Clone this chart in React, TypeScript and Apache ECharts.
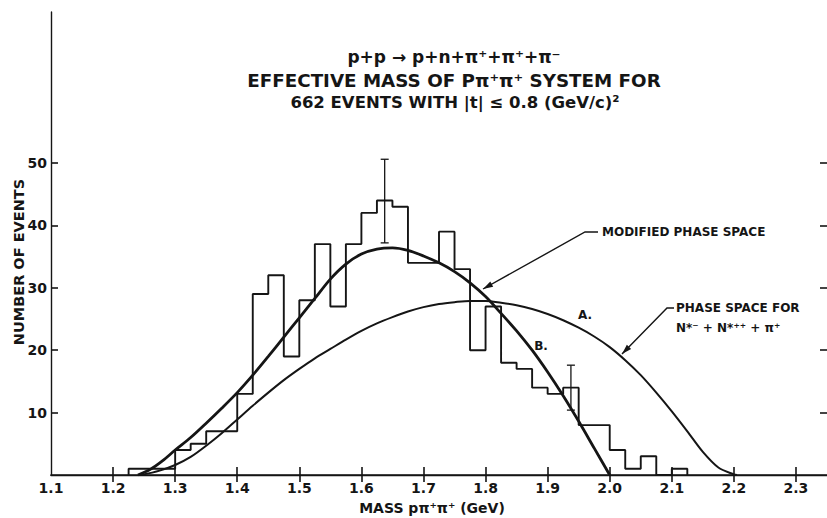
import React, { useEffect, useRef } from "react";
import * as echarts from "echarts";

// Histogram: bins of 0.025 GeV starting at 1.225 GeV
const binStart = 1.225;
const binWidth = 0.025;
const binCounts = [
  1, 1, 1, 4, 5, 7, 7, 13, 29, 32, 19, 28, 37, 27, 37, 42, 44, 43, 34, 34, 39,
  33, 20, 27, 18, 17, 14, 13, 14, 8, 8, 4, 1, 3, 0, 1,
];

// Curve B: modified phase space
const modifiedMass = [
  1.24, 1.26, 1.28, 1.3, 1.325, 1.35, 1.375, 1.4, 1.425, 1.45, 1.475, 1.5,
  1.525, 1.55, 1.575, 1.6, 1.625, 1.65, 1.675, 1.7, 1.725, 1.75, 1.775, 1.8,
  1.825, 1.85, 1.875, 1.9, 1.925, 1.95, 1.975, 2.0,
];
const modifiedEvents = [
  0, 0.9, 2.3, 4.0, 6.0, 8.3, 10.7, 13.2, 16.0, 19.0, 22.1, 25.2, 28.3, 31.4,
  33.8, 35.4, 36.2, 36.4, 36.0, 35.1, 34.0, 32.6, 30.8, 28.6, 25.9, 23.1, 20.0,
  16.5, 12.7, 8.6, 4.3, 0,
];

// Curve A: phase space for N*- + N*++ + pi+
const phaseMass = [
  1.245, 1.275, 1.3, 1.325, 1.35, 1.375, 1.4, 1.425, 1.45, 1.475, 1.5, 1.525,
  1.55, 1.575, 1.6, 1.625, 1.65, 1.675, 1.7, 1.725, 1.75, 1.775, 1.8, 1.825,
  1.85, 1.875, 1.9, 1.925, 1.95, 1.975, 2.0, 2.025, 2.05, 2.075, 2.1, 2.125,
  2.15, 2.175, 2.2, 2.205,
];
const phaseEvents = [
  0, 0.7, 1.6, 2.9, 4.7, 6.7, 8.9, 11.1, 13.2, 15.2, 17.0, 18.7, 20.2, 21.7,
  23.1, 24.3, 25.3, 26.2, 26.9, 27.4, 27.7, 27.9, 27.9, 27.6, 27.2, 26.6, 25.8,
  24.8, 23.6, 22.2, 20.5, 18.4, 16.0, 13.2, 10.2, 7.0, 3.7, 1.2, 0.1, 0,
];

// Error bars
const errorMass = [1.6375, 1.9375];
const errorLow = [37.2, 10.4];
const errorHigh = [50.6, 17.6];

// Axis ticks
const xLabelValues = [1.1, 1.2, 1.3, 1.4, 1.5, 1.6, 1.7, 1.8, 1.9, 2.0, 2.1, 2.2, 2.3];
const xTickValues = [1.2, 1.3, 1.4, 1.5, 1.6, 1.7, 1.8, 1.9, 2.0, 2.1, 2.2, 2.3];
const yTickValues = [10, 20, 30, 40, 50];

const INK = "#151515";
const FONT = "DejaVu Sans";

function arrowHead(tip: number[], from: number[], len: number, half: number) {
  const dx = tip[0] - from[0];
  const dy = tip[1] - from[1];
  const l = Math.hypot(dx, dy);
  const ux = dx / l;
  const uy = dy / l;
  const bx = tip[0] - ux * len;
  const by = tip[1] - uy * len;
  const nx = -uy * half;
  const ny = ux * half;
  return [tip, [bx + nx, by + ny], [bx - nx, by - ny]];
}

export default function App() {
  const ref = useRef<HTMLDivElement>(null);
  useEffect(() => {
    if (!ref.current) return;
    const chart = echarts.init(ref.current, null, { renderer: "svg" });

    const histData: number[][] = [[binStart, 0]];
    binCounts.forEach((c, i) => histData.push([binStart + i * binWidth, c]));
    histData.push([binStart + binCounts.length * binWidth, 0]);

    const modData = modifiedMass.map((m, i) => [m, modifiedEvents[i]]);
    const phData = phaseMass.map((m, i) => [m, phaseEvents[i]]);
    const errData = errorMass.map((m, i) => [m, errorLow[i], errorHigh[i]]);

    const L1a = [598, 232];
    const L1b = [585, 232];
    const L1tip = [483, 289];
    const L2a = [674, 308];
    const L2b = [667, 308];
    const L2tip = [622, 354];

    const titleFont = (size: number) => `bold ${size}px "${FONT}"`;

    chart.setOption({
      animation: false,
      backgroundColor: "#ffffff",
      grid: { left: 51, top: 12, width: 781, height: 463, containLabel: false },
      xAxis: [
        {
          type: "value",
          min: 1.1,
          max: 2.35,
          position: "bottom",
          axisLine: { show: true, lineStyle: { color: INK, width: 1.6 } },
          axisTick: {
            show: true,
            inside: true,
            length: 8,
            customValues: xTickValues,
            lineStyle: { color: INK, width: 1.6 },
          },
          axisLabel: {
            show: true,
            customValues: xLabelValues,
            formatter: (v: number) => v.toFixed(1),
            color: INK,
            fontFamily: FONT,
            fontWeight: "bold",
            fontSize: 14,
            margin: 6,
          },
          splitLine: { show: false },
        },
        {
          type: "value",
          min: 1.1,
          max: 2.35,
          position: "top",
          axisLine: { show: true, lineStyle: { color: INK, width: 1.4 } },
          axisTick: {
            show: true,
            inside: true,
            length: 7,
            customValues: xTickValues,
            lineStyle: { color: INK, width: 1.6 },
          },
          axisLabel: { show: false },
          splitLine: { show: false },
        },
      ],
      yAxis: [
        {
          type: "value",
          min: 0,
          max: 74.2,
          position: "left",
          axisLine: { show: true, lineStyle: { color: INK, width: 1.4 } },
          axisTick: {
            show: true,
            inside: true,
            length: 7,
            customValues: yTickValues,
            lineStyle: { color: INK, width: 1.6 },
          },
          axisLabel: {
            show: true,
            customValues: yTickValues,
            color: INK,
            fontFamily: FONT,
            fontWeight: "bold",
            fontSize: 14,
            margin: 4,
          },
          splitLine: { show: false },
        },
        {
          type: "value",
          min: 0,
          max: 74.2,
          position: "right",
          axisLine: { show: false },
          axisTick: {
            show: true,
            inside: true,
            length: 7,
            customValues: yTickValues,
            lineStyle: { color: INK, width: 1.6 },
          },
          axisLabel: { show: false },
          splitLine: { show: false },
        },
      ],
      series: [
        {
          type: "line",
          name: "histogram",
          data: histData,
          step: "end",
          showSymbol: false,
          lineStyle: { color: INK, width: 1.9 },
          z: 3,
        },
        {
          type: "line",
          name: "modified phase space",
          data: modData,
          smooth: 0.3,
          showSymbol: false,
          lineStyle: { color: INK, width: 2.8 },
          z: 4,
        },
        {
          type: "line",
          name: "phase space",
          data: phData,
          smooth: 0.3,
          showSymbol: false,
          lineStyle: { color: INK, width: 2 },
          z: 4,
        },
        {
          type: "custom",
          name: "errors",
          data: errData,
          encode: { x: 0, y: [1, 2] },
          z: 5,
          renderItem: (params: any, api: any) => {
            const x = api.value(0);
            const lo = api.coord([x, api.value(1)]);
            const hi = api.coord([x, api.value(2)]);
            const cap = 4;
            const st = { stroke: INK, lineWidth: 1.3 };
            return {
              type: "group",
              children: [
                { type: "line", shape: { x1: lo[0], y1: lo[1], x2: hi[0], y2: hi[1] }, style: st },
                { type: "line", shape: { x1: lo[0] - cap, y1: lo[1], x2: lo[0] + cap, y2: lo[1] }, style: st },
                { type: "line", shape: { x1: hi[0] - cap, y1: hi[1], x2: hi[0] + cap, y2: hi[1] }, style: st },
              ],
            };
          },
        },
      ],
      graphic: [
        {
          type: "text",
          x: 454,
          y: 57,
          style: {
            text: "p+p → p+n+π⁺+π⁺+π⁻",
            fill: INK,
            font: titleFont(17),
            align: "center",
            verticalAlign: "middle",
          },
        },
        {
          type: "text",
          x: 454,
          y: 80,
          style: {
            text: "EFFECTIVE MASS OF Pπ⁺π⁺ SYSTEM FOR",
            fill: INK,
            font: titleFont(18.3),
            align: "center",
            verticalAlign: "middle",
          },
        },
        {
          type: "text",
          x: 455,
          y: 102,
          style: {
            text: "662 EVENTS WITH |t| ≤ 0.8 (GeV/c)²",
            fill: INK,
            font: titleFont(16.5),
            align: "center",
            verticalAlign: "middle",
          },
        },
        {
          type: "text",
          x: 19,
          y: 262,
          rotation: Math.PI / 2,
          style: {
            text: "NUMBER OF EVENTS",
            fill: INK,
            font: `bold 14.5px "${FONT}"`,
            align: "center",
            verticalAlign: "middle",
          },
        },
        {
          type: "text",
          x: 432,
          y: 508,
          style: {
            text: "MASS pπ⁺π⁺ (GeV)",
            fill: INK,
            font: `bold 14px "${FONT}"`,
            align: "center",
            verticalAlign: "middle",
          },
        },
        {
          type: "text",
          x: 602,
          y: 232,
          style: {
            text: "MODIFIED PHASE SPACE",
            fill: INK,
            font: `bold 12px "${FONT}"`,
            align: "left",
            verticalAlign: "middle",
          },
        },
        {
          type: "text",
          x: 676,
          y: 308,
          style: {
            text: "PHASE SPACE FOR",
            fill: INK,
            font: `bold 12px "${FONT}"`,
            align: "left",
            verticalAlign: "middle",
          },
        },
        {
          type: "text",
          x: 676,
          y: 328,
          style: {
            text: "N*⁻ + N*⁺⁺ + π⁺",
            fill: INK,
            font: `bold 12px "${FONT}"`,
            align: "left",
            verticalAlign: "middle",
          },
        },
        {
          type: "text",
          x: 585,
          y: 315,
          style: { text: "A.", fill: INK, font: `bold 12px "${FONT}"`, align: "center", verticalAlign: "middle" },
        },
        {
          type: "text",
          x: 541,
          y: 346,
          style: { text: "B.", fill: INK, font: `bold 12px "${FONT}"`, align: "center", verticalAlign: "middle" },
        },
        {
          type: "polyline",
          shape: { points: [L1a, L1b, L1tip] },
          style: { stroke: INK, lineWidth: 1.4, fill: "none" },
        },
        {
          type: "polygon",
          shape: { points: arrowHead(L1tip, L1b, 10, 3) },
          style: { fill: INK },
        },
        {
          type: "polyline",
          shape: { points: [L2a, L2b, L2tip] },
          style: { stroke: INK, lineWidth: 1.4, fill: "none" },
        },
        {
          type: "polygon",
          shape: { points: arrowHead(L2tip, L2b, 10, 3) },
          style: { fill: INK },
        },
      ],
    });
    return () => chart.dispose();
  }, []);
  return (
    <div
      ref={ref}
      style={{ position: "fixed", left: 0, top: 0, width: 827, height: 518, background: "#fff" }}
    />
  );
}
